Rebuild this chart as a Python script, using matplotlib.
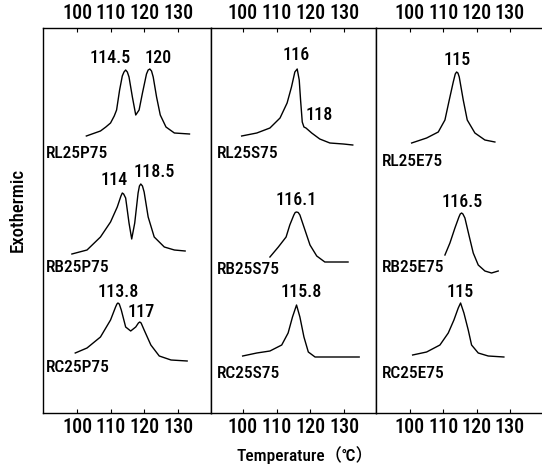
import matplotlib
matplotlib.use("Agg")
import matplotlib.pyplot as plt

# ── Data (heights in arbitrary units) ──── #
TICKS = [100, 110, 120, 130]

# Column 1: P75 blends
rl25p75_t = [102.7, 106.9, 108.5, 109.9, 111.0, 111.7, 112.6, 113.4, 113.9, 114.4,
             114.9, 115.4, 116.4, 117.4, 118.4, 119.4, 120.6, 121.1, 121.6, 122.1,
             122.6, 123.6, 124.7, 126.4, 128.9, 133.4]
rl25p75_h = [277, 282, 286, 290, 297, 303, 323, 337, 341, 343,
             341, 336, 316, 298, 303, 320, 339, 343, 344, 342,
             336, 316, 298, 286, 280, 279]
rb25p75_t = [98.4, 102.9, 106.9, 109.9, 111.9, 113.0, 113.4, 113.8, 114.4, 115.4,
             116.2, 117.1, 118.1, 118.5, 118.9, 119.4, 119.9, 121.1, 122.9, 125.9,
             128.9, 132.1]
rb25p75_h = [159, 163, 176, 191, 206, 217, 220, 219, 215, 190,
             174, 190, 220, 227, 229, 227, 221, 196, 176, 166,
             163, 162]
rc25p75_t = [99.4, 102.9, 106.9, 109.9, 111.4, 111.8, 112.1, 112.5, 113.1, 114.4,
             115.9, 117.4, 118.2, 118.6, 119.0, 119.9, 121.9, 124.4, 127.9, 132.7]
rc25p75_h = [60, 65, 76, 93, 106, 109, 110, 109, 103, 86,
             82, 86, 90, 91, 90, 83, 68, 57, 53, 52]

# Column 2: S75 blends
rl25s75_t = [99.6, 104.1, 108.0, 111.0, 113.1, 114.4, 115.4, 116.1, 116.7, 117.1,
             117.6, 118.1, 118.7, 120.4, 122.8, 125.8, 129.8, 132.6]
rl25s75_h = [277, 280, 285, 295, 310, 326, 341, 344, 333, 313,
             291, 286, 285, 280, 274, 270, 269, 268]
rb25s75_t = [108.0, 110.5, 112.8, 113.9, 115.1, 115.5, 115.9, 116.4, 116.9, 118.1,
             119.9, 121.9, 124.3, 127.8, 131.2]
rb25s75_h = [156, 166, 176, 188, 198, 200.5, 201, 200.5, 198, 186,
             168, 157, 151, 151, 151]
rc25s75_t = [99.9, 104.1, 108.0, 111.5, 113.4, 114.7, 115.9, 116.9, 118.1, 119.4,
             121.4, 125.8, 130.8, 134.5]
rc25s75_h = [57, 60, 62, 68, 80, 96, 108, 96, 76, 61,
             56, 56, 56, 56]

# Column 3: E75 blends
rl25e75_t = [100.5, 105.0, 108.5, 110.5, 111.8, 113.0, 113.6, 114.0, 114.4, 114.8,
             116.0, 117.2, 119.5, 122.5, 125.5]
rl25e75_h = [270, 275, 281, 293, 313, 331, 339, 341, 340, 336,
             313, 293, 280, 273, 271]
rb25e75_t = [110.5, 112.0, 113.5, 114.7, 115.1, 115.5, 115.9, 116.5, 117.7, 119.0,
             120.5, 122.5, 124.5, 126.5]
rb25e75_h = [158, 170, 185, 196, 199, 200, 199, 195, 178, 160,
             148, 142, 140, 142]
rc25e75_t = [100.8, 105.0, 109.0, 111.5, 113.2, 114.5, 115.2, 116.2, 117.5, 118.5,
             120.5, 123.5, 128.2]
rc25e75_h = [58, 61, 68, 80, 93, 105, 110, 100, 83, 68,
             60, 57, 56]

SAMPLES = [
    ["RL25P75", "RB25P75", "RC25P75"],
    ["RL25S75", "RB25S75", "RC25S75"],
    ["RL25E75", "RB25E75", "RC25E75"],
]
CURVES = [
    [(rl25p75_t, rl25p75_h), (rb25p75_t, rb25p75_h), (rc25p75_t, rc25p75_h)],
    [(rl25s75_t, rl25s75_h), (rb25s75_t, rb25s75_h), (rc25s75_t, rc25s75_h)],
    [(rl25e75_t, rl25e75_h), (rb25e75_t, rb25e75_h), (rc25e75_t, rc25e75_h)],
]
# peak annotations: (text, temperature, height)
PEAK_LABELS = [
    [("114.5", 109.9, 355), ("120", 124.0, 355), ("114", 110.9, 233),
     ("118.5", 122.9, 241), ("113.8", 112.3, 121), ("117", 118.9, 101)],
    [("116", 115.9, 358), ("118", 122.6, 298), ("116.1", 115.9, 213),
     ("115.8", 117.4, 121)],
    [("115", 114.1, 353), ("116.5", 115.8, 211), ("115", 115.0, 121)],
]
SAMPLE_LABEL_POS = [
    [(90.7, 260), (90.7, 145), (90.7, 45)],
    [(92.2, 260), (92.2, 143), (92.2, 40)],
    [(91.5, 251), (91.5, 145), (91.5, 40)],
]

# ── Layout (pixel geometry of the original scan) ───────────────────────── #
W, H = 542, 470
PANELS = [(43, 168, (89.8, 139.8)),
          (211, 165, (90.5, 139.5)),
          (376, 167, (89.8, 139.95))]
FONT = ["Roboto Condensed", "DejaVu Sans"]

plt.rcParams["font.family"] = FONT
plt.rcParams["font.weight"] = 500
fig = plt.figure(figsize=(W / 100, H / 100), dpi=100)

for i, (left, width, xlim) in enumerate(PANELS):
    ax = fig.add_axes([left / W, (H - 413) / H, width / W, 385 / H])
    ax.set_xlim(*xlim)
    ax.set_ylim(0, 385)
    ax.set_xticks(TICKS)
    ax.set_yticks([])
    ax.tick_params(axis="x", which="both", direction="in", length=3, width=0.8,
                   top=True, bottom=True, labeltop=True, labelbottom=True,
                   labelsize=14.5, pad=3.5)
    for sp in ax.spines.values():
        sp.set_linewidth(1.0)
    if i == 2:
        ax.spines["right"].set_visible(False)

    for (t, h) in CURVES[i]:
        ax.plot(t, h, color="black", lw=1.0)
    for name, (x, y) in zip(SAMPLES[i], SAMPLE_LABEL_POS[i]):
        ax.text(x, y, name, ha="left", va="center", fontsize=12.5)
    for txt, x, y in PEAK_LABELS[i]:
        ax.text(x, y, txt, ha="center", va="center", fontsize=13)

fig.text(18 / W, 1 - 210 / H, "Exothermic", rotation=90, ha="center", va="center",
         fontsize=13.5)
fig.text(305 / W, 1 - 455 / H, "Temperature（℃）", ha="center", va="center",
         fontsize=12.5, family=["Roboto Condensed", "Noto Sans CJK JP"])

fig.savefig("out.png", dpi=100)
